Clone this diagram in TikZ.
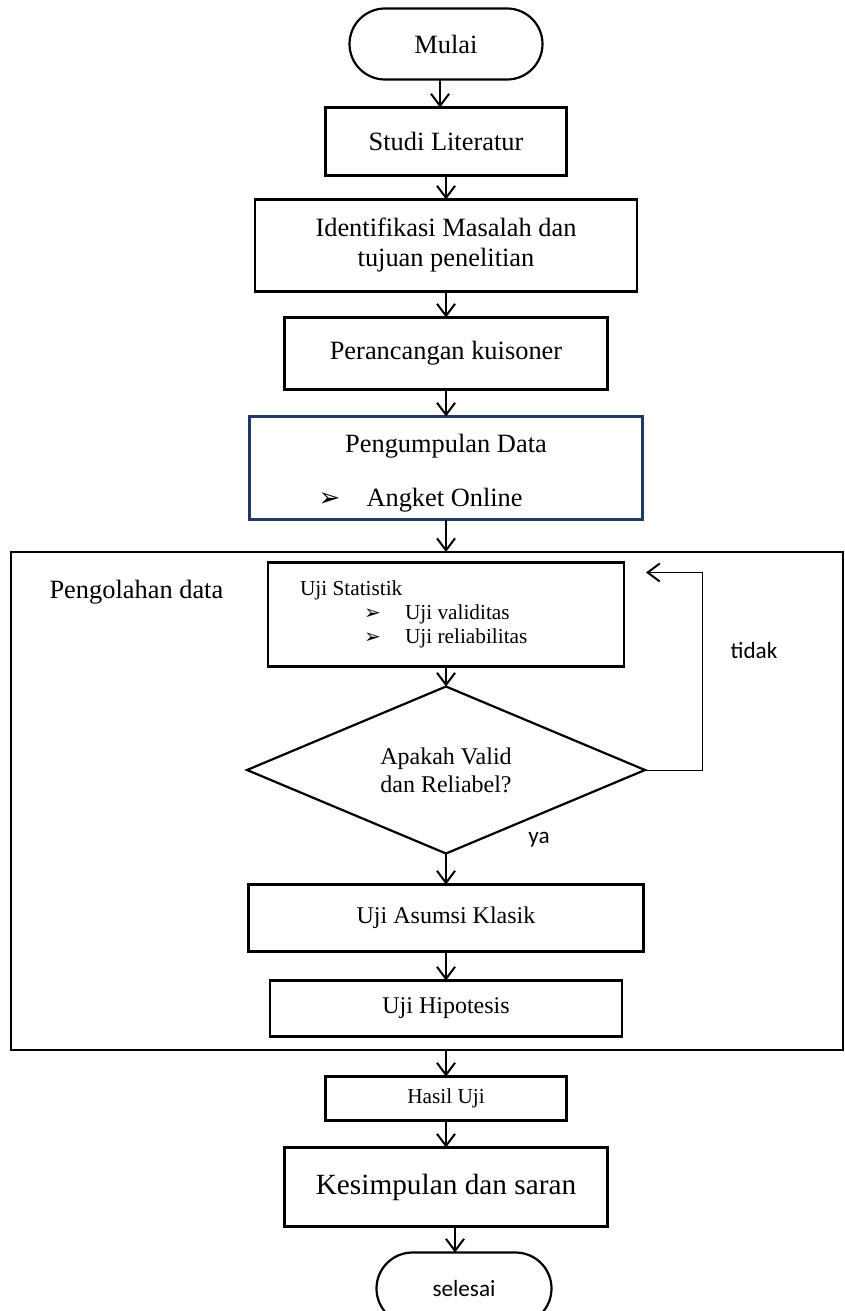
\documentclass[tikz,border=0pt]{standalone}
\usepackage{fontspec}
\setmainfont{Liberation Serif}
\newfontfamily\calfont{Carlito}
\newfontfamily\symfont{DejaVu Sans}
\usetikzlibrary{arrows.meta,positioning,shapes.geometric,shapes.misc}
\definecolor{ink}{HTML}{000000}
\definecolor{navy}{HTML}{1F3864}
\newcommand{\arrowbullet}[1]{{\symfont\fontsize{#1}{#1}\selectfont ➢}}
\newcommand{\plainspace}{\spaceskip=\fontdimen2\font\xspaceskip=\fontdimen2\font\relax}
\tikzset{
  >={Straight Barb[length=12pt,width=18pt,line width=2pt]},
  every node/.style={font=\fontsize{26.4}{30}\selectfont,text=ink},
  box/.style={draw=ink,line width=2.2pt,align=center,inner sep=0pt,outer sep=0pt},
  termbox/.style={box,rounded rectangle},
  decision/.style={box,diamond,aspect=2.4},
  groupframe/.style={draw=ink,line width=2.4pt,inner sep=0pt,outer sep=0pt},
  arrow/.style={->,line width=2pt,draw=ink},
  thinarr/.style={->,line width=1pt,draw=ink},
  sidetext/.style={font=\calfont\fontsize{23.2}{26}\selectfont},
  midtext/.style={font=\fontsize{24}{28}\selectfont},
  smalltext/.style={font=\fontsize{21.3}{24}\selectfont},
  bigtext/.style={font=\fontsize{29.3}{33}\selectfont},
}
\begin{document}
\begin{tikzpicture}[x=1pt,y=-1pt,node distance=26pt]
\useasboundingbox (0,0) rectangle (844,1311);

\node[groupframe,minimum width=832pt,minimum height=498pt] (olah) at (427,801) {};

\node[termbox,minimum width=193pt,minimum height=71pt] (mulai) at (446,44) {Mulai};
\node[box,minimum width=241pt,minimum height=68pt,below=28pt of mulai] (studi) {Studi Literatur};
\node[box,minimum width=382pt,minimum height=92pt,below=24pt of studi] (ident) {Identifikasi Masalah dan\\tujuan penelitian};
\node[box,minimum width=323pt,minimum height=72pt,below=26pt of ident] (peran) {Perancangan kuisoner};
\node[box,draw=navy,minimum width=393pt,minimum height=103pt,text width=393pt,below=27pt of peran] (kumpul) {\plainspace\rule{0pt}{29pt}Pengumpulan Data\\[24pt]\hspace*{69pt}\makebox[48pt][l]{\arrowbullet{26}}Angket Online\hfill\null};
\node[box,smalltext,minimum width=356pt,minimum height=104pt,text width=292pt,inner xsep=32pt,align=left,below=43pt of kumpul] (uji) {\plainspace Uji Statistik\\\hspace*{64pt}\makebox[41pt][l]{\arrowbullet{20}}Uji validitas\\\hspace*{64pt}\makebox[41pt][l]{\arrowbullet{20}}Uji reliabilitas};
\node[decision,midtext,minimum width=398pt,minimum height=167pt,below=20pt of uji] (cek) {Apakah Valid\\dan Reliabel?};
\node[box,midtext,minimum width=395pt,minimum height=67pt,below=31pt of cek] (asumsi) {Uji Asumsi Klasik};
\node[box,midtext,minimum width=352pt,minimum height=56pt,below=29pt of asumsi] (hipo) {Uji Hipotesis};
\node[box,smalltext,minimum width=241pt,minimum height=44pt,below=40pt of hipo] (hasil) {Hasil Uji};
\node[box,bigtext,minimum width=323pt,minimum height=79pt,below=27pt of hasil] (kesim) {Kesimpulan dan saran};
\node[termbox,sidetext,minimum width=175pt,minimum height=72pt,below=26pt of kesim,xshift=18pt] (selesai) {selesai};

\node[anchor=west] (olahlabel) at (46,592) {Pengolahan data};
\node[sidetext] (tidak) at (754,651) {tidak};
\node[sidetext] (ya) at (539,840) {ya};
\coordinate (balik) at ([xshift=22pt,yshift=-10pt]uji.north east);

\draw[arrow] ([xshift=-6pt]mulai.south) -- ([xshift=-6pt]studi.north);
\draw[arrow] (studi) -- (ident);
\draw[arrow] (ident) -- (peran);
\draw[arrow] (peran) -- (kumpul);
\draw[arrow] (kumpul.south) -- (kumpul.south |- olah.north);
\draw[arrow] (uji) -- (cek);
\draw[arrow] (cek) -- (asumsi);
\draw[arrow] (asumsi) -- (hipo);
\draw[arrow] (olah.south -| hasil.north) -- (hasil);
\draw[arrow] (hasil) -- (kesim);
\draw[arrow] ([xshift=9pt]kesim.south) -- ([xshift=-9pt]selesai.north);
\draw[thinarr] (cek.east) -- ++(57,0) |- (balik);

\end{tikzpicture}
\end{document}
